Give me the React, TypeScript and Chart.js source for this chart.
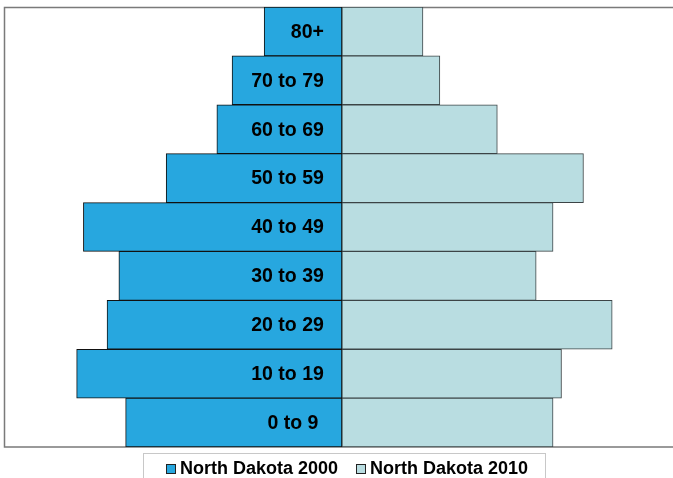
import React, { useEffect, useRef } from "react";
import { Chart, registerables } from "chart.js";

Chart.register(...registerables);

// ---- data ----
const ageGroups = ["80+", "70 to 79", "60 to 69", "50 to 59", "40 to 49", "30 to 39", "20 to 29", "10 to 19", "0 to 9 "];
const nd2000 = [4.6, 6.5, 7.4, 10.4, 15.3, 13.2, 13.9, 15.7, 12.8];
const nd2010 = [4.8, 5.8, 9.2, 14.3, 12.5, 11.5, 16.0, 13.0, 12.5];
const seriesNames = ["North Dakota 2000", "North Dakota 2010"];

const COLOR_2000 = "#27a7df";
const COLOR_2010 = "#b9dde1";
const FONT = '"Liberation Sans", Arial, sans-serif';

const framePlugin = {
  id: "frame",
  beforeDatasetsDraw(chart: any) {
    const { ctx, chartArea } = chart;
    ctx.save();
    ctx.strokeStyle = "#7a7a7a";
    ctx.lineWidth = 1.5;
    ctx.beginPath();
    ctx.moveTo(chart.width + 5, chartArea.top + 0.5);
    ctx.lineTo(chartArea.left + 0.5, chartArea.top + 0.5);
    ctx.lineTo(chartArea.left + 0.5, chartArea.bottom);
    ctx.lineTo(chart.width + 5, chartArea.bottom);
    ctx.stroke();
    ctx.restore();
  },
};

const labelPlugin = {
  id: "ageLabels",
  afterDatasetsDraw(chart: any) {
    const { ctx } = chart;
    const xs = chart.scales.x;
    const ys = chart.scales.y;
    const x0 = xs.getPixelForValue(0) - 18;
    ctx.save();
    ctx.font = `bold 19.5px ${FONT}`;
    ctx.fillStyle = "#000";
    ctx.textAlign = "right";
    ctx.textBaseline = "middle";
    (chart.data.labels as string[]).forEach((lab, i) => {
      ctx.fillText(lab, x0, ys.getPixelForValue(i) + 1);
    });
    ctx.restore();
  },
};

const legendPlugin = {
  id: "bottomLegend",
  afterDraw(chart: any) {
    const { ctx } = chart;
    ctx.save();
    ctx.strokeStyle = "#c8c8c8";
    ctx.lineWidth = 1;
    ctx.strokeRect(143.5, 453.5, 402, 40);
    const starts = [166, 356];
    ctx.font = `bold 18px ${FONT}`;
    ctx.textBaseline = "middle";
    ctx.textAlign = "left";
    chart.data.datasets.forEach((ds: any, i: number) => {
      const x = starts[i];
      ctx.fillStyle = ds.backgroundColor;
      ctx.fillRect(x, 464, 10, 10);
      ctx.strokeStyle = "#222";
      ctx.strokeRect(x + 0.5, 464.5, 9, 9);
      ctx.fillStyle = "#000";
      ctx.fillText(ds.label, x + 14, 469);
    });
    ctx.restore();
  },
};

export default function App() {
  const ref = useRef<HTMLCanvasElement | null>(null);

  useEffect(() => {
    if (!ref.current) return;
    const chart = new Chart(ref.current, {
      type: "bar",
      data: {
        labels: ageGroups,
        datasets: [
          {
            label: seriesNames[0],
            data: nd2000.map((v) => -v),
            backgroundColor: COLOR_2000,
            borderColor: "#111",
            borderWidth: 1,
            borderSkipped: false,
            barPercentage: 1,
            categoryPercentage: 1,
          },
          {
            label: seriesNames[1],
            data: nd2010,
            backgroundColor: COLOR_2010,
            borderColor: "#3c4446",
            borderWidth: 1,
            borderSkipped: false,
            barPercentage: 1,
            categoryPercentage: 1,
          },
        ],
      },
      options: {
        indexAxis: "y",
        responsive: false,
        animation: false,
        devicePixelRatio: 1,
        layout: { padding: { left: 4, right: 0, top: 7, bottom: 31 } },
        scales: {
          x: { type: "linear", min: -20, max: 19.6, stacked: true, display: false },
          y: { stacked: true, display: false },
        },
        plugins: {
          legend: { display: false },
          tooltip: { enabled: false },
          title: { display: false },
        },
      },
      plugins: [framePlugin, labelPlugin, legendPlugin],
    });
    return () => chart.destroy();
  }, []);

  return (
    <div style={{ position: "absolute", left: 0, top: 0, width: 673, height: 478, overflow: "hidden", background: "#fff" }}>
      <canvas ref={ref} width={673} height={478} style={{ display: "block" }} />
    </div>
  );
}
